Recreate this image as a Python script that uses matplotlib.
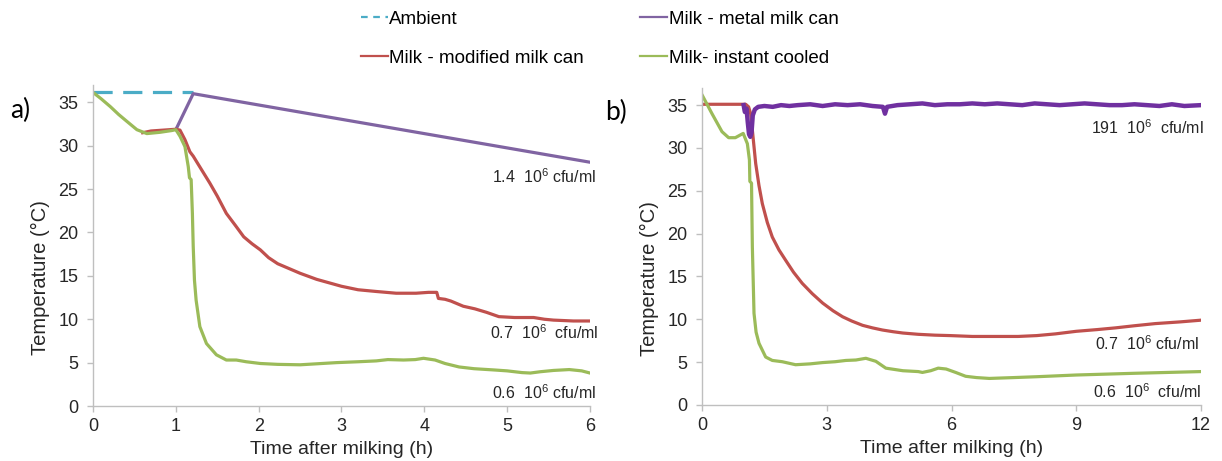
import matplotlib.pyplot as plt
from matplotlib.lines import Line2D

plt.rcParams['font.family'] = 'Liberation Sans'
plt.rcParams['mathtext.fontset'] = 'custom'
plt.rcParams['mathtext.rm'] = 'Liberation Sans'

# colours (Excel style)
c_amb = '#4BACC6'
c_metal = '#8064A2'
c_metal_b = '#7030A0'
c_mod = '#C0504D'
c_inst = '#9BBB59'

# ---- panel a) 6 h ----
amb_t = [0, 1.21]
amb_v = [36.25, 36.25]

metal_a_t = [1.0, 1.21, 6.0]
metal_a_v = [31.85, 36.0, 28.1]

mod_a_t = [0.6, 0.7, 0.85, 1.0, 1.05, 1.11, 1.17, 1.21, 1.3, 1.41, 1.5, 1.61, 1.72, 1.82,
           1.92, 2.02, 2.12, 2.23, 2.5, 2.7, 3.0, 3.2, 3.42, 3.66, 3.9, 4.05, 4.15, 4.17,
           4.25, 4.32, 4.47, 4.61, 4.75, 4.9, 5.09, 5.32, 5.45, 5.56, 5.8, 6.0]
mod_a_v = [31.5, 31.7, 31.8, 31.9, 31.8, 30.7, 29.3, 28.8, 27.4, 25.7, 24.2, 22.2, 20.8, 19.5,
           18.7, 18.0, 17.1, 16.4, 15.3, 14.6, 13.8, 13.4, 13.2, 13.0, 13.0, 13.1, 13.1, 12.4,
           12.3, 12.1, 11.5, 11.2, 10.8, 10.3, 10.2, 10.2, 10.0, 9.9, 9.8, 9.8]

inst_a_t = [0, 0.1, 0.21, 0.31, 0.41, 0.53, 0.65, 0.81, 0.95, 1.0, 1.05, 1.11, 1.15, 1.165,
            1.185, 1.2, 1.21, 1.225, 1.245, 1.29, 1.37, 1.49, 1.61, 1.73, 1.85, 2.02, 2.23,
            2.5, 2.94, 3.2, 3.42, 3.56, 3.75, 3.89, 3.99, 4.13, 4.25, 4.42, 4.6, 4.85, 5.0,
            5.18, 5.28, 5.4, 5.56, 5.75, 5.9, 6.0]
inst_a_v = [36.15, 35.4, 34.5, 33.6, 32.8, 31.85, 31.4, 31.55, 31.75, 31.85, 31.1, 29.9, 27.6,
            26.3, 26.1, 22.2, 18.4, 14.5, 12.2, 9.15, 7.2, 5.9, 5.3, 5.3, 5.1, 4.9, 4.8,
            4.75, 5.0, 5.1, 5.2, 5.35, 5.3, 5.35, 5.5, 5.3, 4.9, 4.5, 4.3, 4.15, 4.05,
            3.85, 3.8, 3.95, 4.1, 4.2, 4.05, 3.8]

# ---- panel b) 12 h ----
metal_b_t = [1.0, 1.03, 1.07, 1.1, 1.13, 1.16, 1.19, 1.22, 1.27, 1.35, 1.5, 1.7, 1.9, 2.1,
             2.3, 2.6, 2.9, 3.2, 3.5, 3.8, 4.1, 4.35, 4.4, 4.45, 4.7, 5.0, 5.3, 5.6, 5.9,
             6.2, 6.5, 6.8, 7.1, 7.4, 7.7, 8.0, 8.3, 8.6, 8.9, 9.2, 9.5, 9.8, 10.1, 10.4,
             10.7, 11.0, 11.3, 11.6, 12.0]
metal_b_v = [35.0, 34.2, 34.6, 33.0, 31.6, 31.3, 31.8, 33.8, 34.5, 34.8, 34.9, 34.8, 35.0, 34.9,
             35.0, 35.1, 34.9, 35.1, 35.0, 35.1, 34.9, 34.8, 34.0, 34.8, 35.0, 35.1, 35.2, 35.0,
             35.1, 35.1, 35.2, 35.1, 35.2, 35.1, 35.0, 35.2, 35.1, 35.0, 35.1, 35.2, 35.1, 35.0,
             35.0, 35.1, 35.0, 34.9, 35.1, 34.9, 35.0]

mod_b_t = [0, 1.05, 1.12, 1.17, 1.21, 1.29, 1.37, 1.45, 1.57, 1.69, 1.85, 2.01, 2.2, 2.41,
           2.65, 2.9, 3.15, 3.38, 3.6, 3.86, 4.1, 4.34, 4.6, 4.83, 5.2, 5.6, 5.97, 6.5, 7.1,
           7.6, 8.05, 8.5, 9.0, 9.5, 9.94, 10.4, 10.9, 11.5, 12.0]
mod_b_v = [35.1, 35.1, 34.8, 34.0, 32.1, 28.2, 25.6, 23.5, 21.3, 19.6, 18.1, 16.9, 15.5, 14.2,
           13.0, 11.9, 11.0, 10.3, 9.8, 9.3, 9.0, 8.75, 8.55, 8.4, 8.25, 8.15, 8.1, 8.0, 8.0,
           8.0, 8.1, 8.3, 8.6, 8.8, 9.0, 9.25, 9.5, 9.7, 9.9]

inst_b_t = [0, 0.24, 0.48, 0.64, 0.8, 0.99, 1.09, 1.14, 1.15, 1.19, 1.21, 1.25, 1.3, 1.37,
            1.53, 1.69, 1.93, 2.25, 2.6, 2.9, 3.2, 3.46, 3.7, 3.94, 4.18, 4.42, 4.83, 5.2,
            5.3, 5.5, 5.68, 5.87, 6.1, 6.34, 6.6, 6.91, 7.5, 8.05, 9.0, 10.4, 11.2, 12.0]
inst_b_v = [36.2, 34.0, 31.9, 31.2, 31.2, 31.7, 30.5, 28.6, 26.1, 25.9, 18.5, 10.7, 8.5, 7.2,
            5.6, 5.2, 5.05, 4.7, 4.8, 4.95, 5.05, 5.2, 5.25, 5.45, 5.1, 4.3, 4.0, 3.9,
            3.8, 4.0, 4.3, 4.2, 3.8, 3.35, 3.2, 3.1, 3.2, 3.3, 3.5, 3.7, 3.8, 3.9]

labels_a = [r'1.4  10$^{6}$ cfu/ml', r'0.7  10$^{6}$  cfu/ml', r'0.6  10$^{6}$ cfu/ml']
labels_b = [r'191  10$^{6}$  cfu/ml', r'0.7  10$^{6}$ cfu/ml', r'0.6  10$^{6}$  cfu/ml']

fig = plt.figure(figsize=(12.22, 4.61), dpi=100)
ax1 = fig.add_axes([0.0761, 0.1193, 0.4067, 0.6963])
ax2 = fig.add_axes([0.5745, 0.1215, 0.4083, 0.6876])

lw = 2.3
ax1.plot(amb_t, amb_v, color=c_amb, lw=lw, dashes=(6, 3.3))
ax1.plot(metal_a_t, metal_a_v, color=c_metal, lw=lw)
ax1.plot(mod_a_t, mod_a_v, color=c_mod, lw=lw)
ax1.plot(inst_a_t, inst_a_v, color=c_inst, lw=lw)

ax2.plot(mod_b_t, mod_b_v, color=c_mod, lw=lw)
ax2.plot(metal_b_t, metal_b_v, color=c_metal_b, lw=3.2)
ax2.plot(inst_b_t, inst_b_v, color=c_inst, lw=lw)

for ax, xmax, xt in [(ax1, 6, range(0, 7)), (ax2, 12, range(0, 13, 3))]:
    ax.set_xlim(0, xmax)
    ax.set_ylim(0, 37)
    ax.set_xticks(list(xt))
    ax.set_yticks(range(0, 36, 5))
    for s in ['top', 'right']:
        ax.spines[s].set_visible(False)
    for s in ['left', 'bottom']:
        ax.spines[s].set_color('#BFBFBF')
        ax.spines[s].set_linewidth(1)
    ax.tick_params(axis='both', direction='out', length=4.5, width=1, color='#BFBFBF',
                   labelsize=13, labelcolor='#262626')
    ax.tick_params(axis='x', pad=4)
    ax.tick_params(axis='y', pad=6)
    ax.set_xlabel('Time after milking (h)', fontsize=14, color='#262626')
    ax.xaxis.set_label_coords(0.5, -0.11)
    ax.set_ylabel('Temperature (°C)', fontsize=14.5, color='#262626')
    ax.yaxis.set_label_coords(-0.086, 0.40)

# bacterial counts
for y, s in zip([26.4, 8.4, 1.5], labels_a):
    ax1.text(5.45, y, s, fontsize=11.5, color='#262626', ha='center', va='center')
for y, s in zip([32.4, 7.2, 1.5], labels_b):
    ax2.text(10.7, y, s, fontsize=11.5, color='#262626', ha='center', va='center')

fig.text(0.008, 0.76, 'a)', fontsize=19, family='Lato', color='#000000', va='center')
fig.text(0.495, 0.757, 'b)', fontsize=19, family='Lato', color='#000000', va='center')

handles = [
    Line2D([], [], color=c_amb, lw=1.6, dashes=(3, 2.5)),
    Line2D([], [], color=c_mod, lw=1.6),
    Line2D([], [], color=c_metal, lw=1.6),
    Line2D([], [], color=c_inst, lw=1.6),
]
names = ['Ambient', 'Milk - modified milk can', 'Milk - metal milk can', 'Milk- instant cooled']
fig.legend(handles, names, ncol=2, loc='upper left', bbox_to_anchor=(0.288, 0.997),
           frameon=False, fontsize=13.5, handlelength=1.4, handletextpad=0.1,
           columnspacing=3.0, labelspacing=1.15, borderaxespad=0.1)

fig.savefig('out.png', dpi=100)
